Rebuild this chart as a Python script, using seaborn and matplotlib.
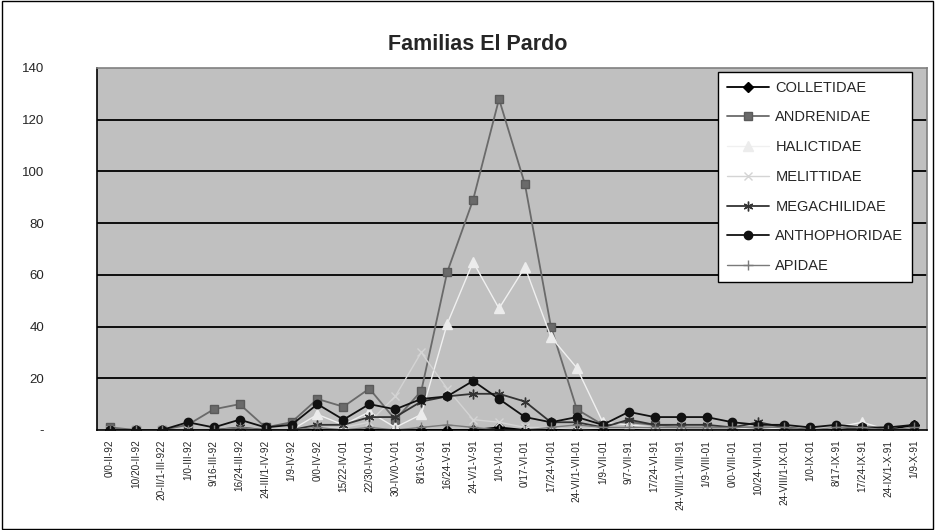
import matplotlib
matplotlib.use("Agg")
import matplotlib.pyplot as plt
import seaborn as sns
import numpy as np
import pandas as pd
from matplotlib.patches import Rectangle

dates = ["0/0-II-92", "10/20-II-92", "20-II/1-III-922", "1/0-III-92", "9/16-III-92",
         "16/24-III-92", "24-III/1-IV-92", "1/9-IV-92", "0/0-IV-92", "15/22-IV-01",
         "22/30-IV-01", "30-IV/0-V-01", "8/16-V-91", "16/24-V-91", "24-V/1-V-91",
         "1/0-VI-01", "0/17-VI-01", "17/24-VI-01", "24-VI/1-VII-01", "1/9-VII-01",
         "9/7-VII-91", "17/24-VI-91", "24-VIII/1-VIII-91", "1/9-VIII-01", "0/0-VIII-01",
         "10/24-VII-01", "24-VIII/1-IX-01", "1/0-IX-01", "8/17-IX-91", "17/24-IX-91",
         "24-IX/1-X-91", "1/9-X-91"]

colletidae    = [0, 0, 0, 0, 0, 0, 0, 0, 0, 0, 0, 0, 0, 0, 0, 1, 0, 0, 0, 0, 0, 0, 0, 0, 0, 0, 0, 0, 0, 0, 0, 2]
andrenidae    = [1, 0, 0, 2, 8, 10, 1, 3, 12, 9, 16, 4, 15, 61, 89, 128, 95, 40, 8, 2, 3, 2, 1, 1, 1, 1, 1, 0, 0, 0, 0, 0]
halictidae    = [0, 0, 0, 0, 0, 1, 0, 0, 6, 2, 7, 1, 6, 41, 65, 47, 63, 36, 24, 3, 2, 1, 1, 1, 1, 0, 1, 0, 1, 3, 0, 0]
melittidae    = [0, 0, 0, 0, 0, 0, 0, 0, 1, 1, 3, 13, 30, 16, 4, 3, 1, 1, 0, 1, 1, 0, 0, 0, 0, 0, 0, 0, 0, 1, 0, 0]
megachilidae  = [0, 0, 0, 0, 0, 1, 0, 0, 2, 2, 5, 5, 11, 13, 14, 14, 11, 3, 3, 1, 4, 2, 2, 2, 1, 3, 1, 0, 0, 1, 0, 0]
anthophoridae = [0, 0, 0, 3, 1, 4, 1, 2, 10, 4, 10, 8, 12, 13, 19, 12, 5, 3, 5, 2, 7, 5, 5, 5, 3, 2, 2, 1, 2, 1, 1, 2]
apidae        = [0, 0, 0, 0, 0, 1, 0, 0, 1, 0, 1, 0, 1, 2, 1, 0, 0, 1, 2, 1, 1, 1, 1, 1, 1, 1, 1, 0, 1, 1, 0, 1]

families = ["COLLETIDAE", "ANDRENIDAE", "HALICTIDAE", "MELITTIDAE",
            "MEGACHILIDAE", "ANTHOPHORIDAE", "APIDAE"]
series = [colletidae, andrenidae, halictidae, melittidae, megachilidae, anthophoridae, apidae]

y_ticks = [0, 20, 40, 60, 80, 100, 120, 140]
y_labels = ["-", "20", "40", "60", "80", "100", "120", "140"]

styles = {
    "COLLETIDAE":    dict(color="#000000", marker="D", ms=5, mfc="#000000", mec="#000000", lw=1.3),
    "ANDRENIDAE":    dict(color="#6a6a6a", marker="s", ms=6, mfc="#6a6a6a", mec="#5a5a5a", lw=1.3),
    "HALICTIDAE":    dict(color="#f0f0f0", marker="^", ms=7, mfc="#ececec", mec="#ececec", lw=1.0),
    "MELITTIDAE":    dict(color="#d4d4d4", marker="x", ms=6, mfc="#d4d4d4", mec="#d4d4d4", lw=1.0),
    "MEGACHILIDAE":  dict(color="#333333", marker=(6, 2, 0), ms=7, mfc="#333333", mec="#333333", lw=1.3),
    "ANTHOPHORIDAE": dict(color="#111111", marker="o", ms=6, mfc="#111111", mec="#111111", lw=1.3),
    "APIDAE":        dict(color="#7a7a7a", marker="+", ms=7, mfc="#7a7a7a", mec="#7a7a7a", lw=1.0),
}

rows = []
for fam, vals in zip(families, series):
    for i, v in enumerate(vals):
        rows.append({"idx": i, "fecha": dates[i], "familia": fam, "n": v})
df = pd.DataFrame(rows)

sns.set_theme(style="white")
plt.rcParams["font.family"] = ["Liberation Sans", "DejaVu Sans"]

fig = plt.figure(figsize=(9.35, 5.30), dpi=100)
fig.patch.set_facecolor("white")
ax = fig.add_axes([97 / 935, 1 - 430 / 530, 830 / 935, 362 / 530])
ax.set_facecolor("#c0c0c0")

for fam in families:
    st = styles[fam]
    sub = df[df["familia"] == fam]
    sns.lineplot(data=sub, x="idx", y="n", ax=ax, color=st["color"], lw=st["lw"],
                 marker=st["marker"], markersize=st["ms"], markerfacecolor=st["mfc"],
                 markeredgecolor=st["mec"], markeredgewidth=1.0, label=fam,
                 estimator=None, errorbar=None, sort=False)

ax.set_xlim(-0.5, len(dates) - 0.5)
ax.set_ylim(0, 140)
ax.set_yticks(y_ticks)
ax.set_yticklabels(y_labels, fontsize=9.5)
ax.set_xticks(range(len(dates)))
ax.set_xticklabels(dates, rotation=90, fontsize=7.2)
ax.set_xticks(np.arange(-0.5, len(dates), 1.0), minor=True)
ax.tick_params(axis="x", which="major", length=0, pad=7)
ax.tick_params(axis="x", which="minor", length=5, width=1, color="black", direction="out")
ax.tick_params(axis="y", which="major", length=4, width=1, color="black", direction="out", pad=34)
for lbl in ax.get_yticklabels():
    lbl.set_horizontalalignment("right")
ax.set_xlabel("")
ax.set_ylabel("")

for yv in y_ticks[1:-1]:
    ax.axhline(yv, color="#000000", lw=1.3, zorder=0.5)

for side in ["top", "right"]:
    ax.spines[side].set_color("#808080")
    ax.spines[side].set_linewidth(1.2)
for side in ["left", "bottom"]:
    ax.spines[side].set_color("#000000")
    ax.spines[side].set_linewidth(1.2)

leg = ax.legend(loc="upper right", bbox_to_anchor=(0.982, 0.989), borderaxespad=0,
                fontsize=10.5, frameon=True, fancybox=False, labelspacing=1.08,
                handlelength=2.9, borderpad=0.6, handletextpad=0.4)
leg.get_frame().set_facecolor("white")
leg.get_frame().set_edgecolor("black")
leg.get_frame().set_linewidth(1.0)
leg.get_frame().set_alpha(1)

fig.text(478 / 935, 1 - 45 / 530, "Familias El Pardo", ha="center", va="center",
         fontsize=15.5, fontweight="bold")

fig.patches.append(Rectangle((0.002, 0.002), 0.996, 0.996, transform=fig.transFigure,
                             fill=False, edgecolor="#000000", lw=1.0))

fig.savefig("out.png", dpi=100, facecolor="white")
